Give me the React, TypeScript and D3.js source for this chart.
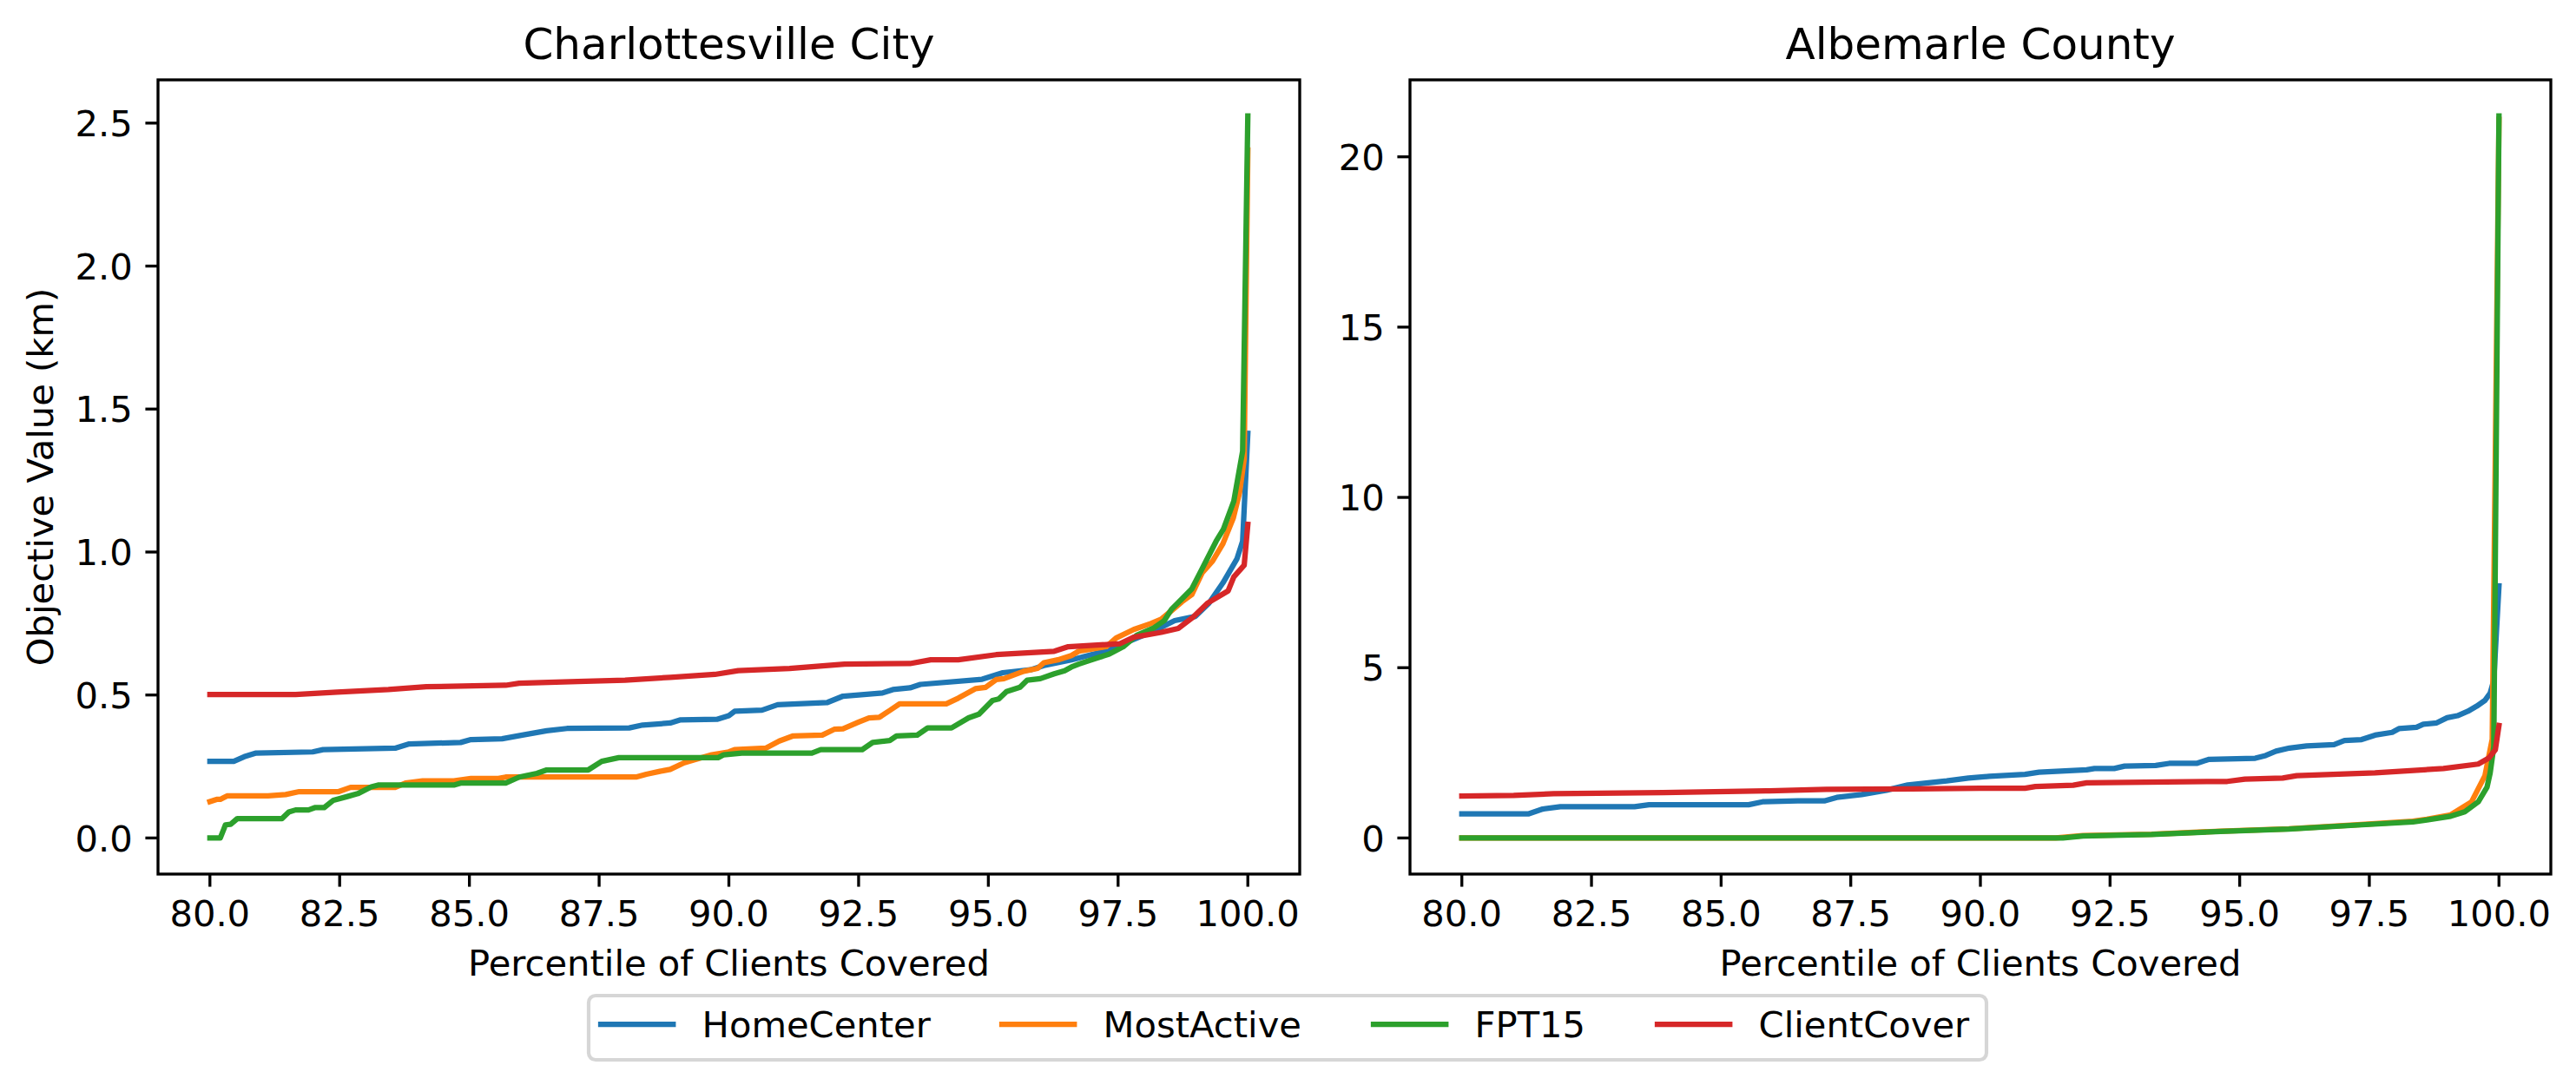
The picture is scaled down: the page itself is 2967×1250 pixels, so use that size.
import React from 'react';
import * as d3 from 'd3';

// ---------- data ----------
const seriesNames = ['HomeCenter', 'MostActive', 'FPT15', 'ClientCover'];
const seriesColors = ['#1f77b4', '#ff7f0e', '#2ca02c', '#d62728'];
const panelTitles = ['Charlottesville City', 'Albemarle County'];
const xLabel = 'Percentile of Clients Covered';
const yLabel = 'Objective Value (km)';
const xTicks = [80, 82.5, 85, 87.5, 90, 92.5, 95, 97.5, 100];
const cityYTicks = [0, 0.5, 1.0, 1.5, 2.0, 2.5];
const countyYTicks = [0, 5, 10, 15, 20];

const cityHomeCenter: [number, number][] = [
  [80.0, 0.268], [80.46, 0.268], [80.66, 0.284], [80.89, 0.297], [81.98, 0.301], [82.18, 0.309],
  [83.57, 0.314], [83.84, 0.329], [84.83, 0.334], [85.03, 0.344], [85.63, 0.347], [86.02, 0.36],
  [86.49, 0.375], [86.88, 0.383], [88.08, 0.385], [88.34, 0.395], [88.87, 0.402], [89.07, 0.413],
  [89.77, 0.415], [90.0, 0.428], [90.11, 0.443], [90.64, 0.447], [90.94, 0.466], [91.9, 0.474],
  [92.2, 0.496], [92.96, 0.507], [93.16, 0.519], [93.49, 0.525], [93.69, 0.537], [94.88, 0.555],
  [95.28, 0.578], [95.81, 0.588], [96.07, 0.603], [96.6, 0.623], [97.13, 0.648], [97.66, 0.684],
  [98.19, 0.724], [98.59, 0.76], [98.99, 0.775], [99.25, 0.821], [99.52, 0.892], [99.79, 0.976],
  [99.9, 1.038], [100.0, 1.415],
];
const cityMostActive: [number, number][] = [
  [80.0, 0.127], [80.13, 0.135], [80.2, 0.135], [80.33, 0.147], [81.12, 0.147], [81.46, 0.152],
  [81.72, 0.162], [82.48, 0.162], [82.71, 0.177], [83.57, 0.177], [83.77, 0.192], [84.1, 0.2],
  [84.7, 0.2], [85.03, 0.208], [85.56, 0.208], [85.7, 0.213], [88.21, 0.213], [88.41, 0.223],
  [88.67, 0.233], [88.87, 0.24], [89.14, 0.263], [89.34, 0.274], [89.67, 0.291], [90.0, 0.301],
  [90.11, 0.309], [90.71, 0.314], [90.97, 0.339], [91.24, 0.357], [91.8, 0.36], [92.03, 0.38],
  [92.2, 0.382], [92.5, 0.405], [92.7, 0.42], [92.9, 0.422], [93.1, 0.446], [93.29, 0.469],
  [94.19, 0.469], [94.42, 0.489], [94.75, 0.522], [94.95, 0.527], [95.15, 0.554], [95.3, 0.557],
  [95.68, 0.583], [95.95, 0.593], [96.07, 0.613], [96.34, 0.623], [96.6, 0.638], [96.74, 0.653],
  [97.27, 0.669], [97.46, 0.699], [97.8, 0.729], [98.13, 0.75], [98.33, 0.765], [98.53, 0.795],
  [98.73, 0.826], [98.92, 0.851], [99.12, 0.927], [99.32, 0.968], [99.52, 1.029], [99.72, 1.119],
  [99.84, 1.207], [99.93, 1.325], [100.0, 2.406],
];
const cityFPT15: [number, number][] = [
  [80.0, 0.0], [80.2, 0.0], [80.3, 0.046], [80.4, 0.048], [80.53, 0.068], [81.39, 0.068],
  [81.52, 0.091], [81.65, 0.098], [81.9, 0.098], [82.02, 0.106], [82.2, 0.106], [82.38, 0.132],
  [82.65, 0.145], [82.85, 0.155], [83.11, 0.179], [83.24, 0.185], [84.7, 0.185], [84.83, 0.192],
  [85.7, 0.192], [85.96, 0.213], [86.3, 0.226], [86.49, 0.238], [87.29, 0.238], [87.55, 0.268],
  [87.88, 0.281], [89.8, 0.281], [89.9, 0.291], [90.25, 0.297], [91.6, 0.297], [91.77, 0.309],
  [92.57, 0.309], [92.77, 0.334], [93.1, 0.341], [93.23, 0.357], [93.63, 0.36], [93.83, 0.385],
  [94.29, 0.385], [94.62, 0.42], [94.82, 0.433], [95.08, 0.481], [95.2, 0.486], [95.35, 0.512],
  [95.61, 0.527], [95.75, 0.552], [96.0, 0.557], [96.27, 0.574], [96.47, 0.585], [96.6, 0.598],
  [96.74, 0.608], [97.07, 0.628], [97.33, 0.643], [97.6, 0.669], [97.86, 0.709], [98.19, 0.735],
  [98.39, 0.76], [98.53, 0.8], [98.73, 0.836], [98.92, 0.871], [99.12, 0.942], [99.39, 1.038],
  [99.53, 1.08], [99.73, 1.178], [99.9, 1.353], [100.0, 2.525],
];
const cityClientCover: [number, number][] = [
  [80.0, 0.502], [81.65, 0.502], [82.45, 0.51], [83.44, 0.519], [84.17, 0.529], [85.7, 0.534],
  [85.96, 0.541], [87.09, 0.547], [88.0, 0.552], [88.87, 0.562], [89.73, 0.572], [90.18, 0.585],
  [91.17, 0.593], [92.23, 0.608], [93.49, 0.61], [93.89, 0.623], [94.42, 0.623], [95.15, 0.641],
  [96.27, 0.653], [96.54, 0.669], [97.53, 0.679], [97.8, 0.702], [98.33, 0.719], [98.66, 0.733],
  [98.95, 0.773], [99.23, 0.822], [99.62, 0.864], [99.73, 0.913], [99.93, 0.954], [100.0, 1.097],
];

const countyHomeCenter: [number, number][] = [
  [80.0, 0.706], [81.28, 0.706], [81.56, 0.85], [81.9, 0.918], [83.33, 0.918], [83.61, 0.977],
  [85.53, 0.977], [85.8, 1.063], [86.48, 1.089], [86.99, 1.089], [87.23, 1.19], [87.71, 1.275],
  [88.19, 1.403], [88.6, 1.556], [89.35, 1.675], [89.77, 1.76], [90.17, 1.81], [90.86, 1.87],
  [91.13, 1.93], [92.05, 2.0], [92.2, 2.04], [92.58, 2.04], [92.78, 2.11], [93.38, 2.13],
  [93.64, 2.19], [94.17, 2.19], [94.41, 2.31], [95.3, 2.34], [95.5, 2.42], [95.7, 2.55],
  [95.96, 2.64], [96.29, 2.7], [96.82, 2.74], [97.02, 2.86], [97.35, 2.89], [97.61, 3.02],
  [97.94, 3.1], [98.07, 3.21], [98.41, 3.25], [98.54, 3.34], [98.8, 3.38], [99.0, 3.53],
  [99.2, 3.59], [99.4, 3.72], [99.57, 3.87], [99.73, 4.04], [99.83, 4.25], [99.9, 4.63],
  [100.0, 7.4],
];
const countyMostActive: [number, number][] = [
  [80.0, 0.0], [91.45, 0.0], [91.98, 0.07], [93.3, 0.11], [94.63, 0.2], [95.95, 0.27],
  [97.28, 0.39], [98.34, 0.49], [98.61, 0.55], [99.07, 0.68], [99.47, 1.06], [99.73, 1.83],
  [99.87, 2.9], [100.0, 21.1],
];
const countyFPT15: [number, number][] = [
  [80.0, 0.0], [91.59, 0.0], [91.98, 0.06], [93.3, 0.1], [94.63, 0.19], [95.95, 0.26],
  [97.28, 0.38], [98.34, 0.47], [98.61, 0.53], [99.07, 0.64], [99.34, 0.77], [99.6, 1.06],
  [99.77, 1.49], [99.83, 1.91], [99.9, 2.68], [100.0, 21.2],
];
const countyClientCover: [number, number][] = [
  [80.0, 1.232], [81.0, 1.25], [81.77, 1.3], [83.88, 1.334], [85.93, 1.386], [87.03, 1.43],
  [88.67, 1.44], [90.0, 1.46], [90.86, 1.46], [91.06, 1.51], [91.79, 1.55], [92.05, 1.62],
  [93.18, 1.64], [94.76, 1.66], [95.1, 1.73], [95.83, 1.76], [96.1, 1.83], [97.61, 1.91],
  [98.93, 2.04], [99.6, 2.17], [99.8, 2.34], [99.93, 2.59], [100.0, 3.3],
];

const citySeries = [cityHomeCenter, cityMostActive, cityFPT15, cityClientCover];
const countySeries = [countyHomeCenter, countyMostActive, countyFPT15, countyClientCover];

// ---------- layout ----------
const W = 2967;
const H = 1250;
const FONT = 'DejaVu Sans, Liberation Sans, sans-serif';
const FS = 41.67;
const TITLE_FS = 50;
const LW = 6.25;
const SPINE = 3.33;
const TICK = 14.58;
const PAD = 14.58;

type PanelProps = {
  left: number; right: number; top: number; bottom: number;
  series: [number, number][][];
  yTicks: number[];
  yFmt: (v: number) => string;
  title: string;
  showYLabel: boolean;
};

function padDomain(ext: [number, number]): [number, number] {
  const span = ext[1] - ext[0];
  return [ext[0] - 0.05 * span, ext[1] + 0.05 * span];
}

function Panel(p: PanelProps) {
  const allX = p.series.flat().map((d) => d[0]);
  const allY = p.series.flat().map((d) => d[1]);
  const x = d3.scaleLinear().domain(padDomain(d3.extent(allX) as [number, number])).range([p.left, p.right]);
  const y = d3.scaleLinear().domain(padDomain(d3.extent(allY) as [number, number])).range([p.bottom, p.top]);
  const line = d3.line<[number, number]>().x((d) => x(d[0])).y((d) => y(d[1]));
  const xf = d3.format('.1f');
  const cx = (p.left + p.right) / 2;
  const cy = (p.top + p.bottom) / 2;
  const clipId = `clip-${Math.round(p.left)}`;
  return (
    <g>
      <defs>
        <clipPath id={clipId}>
          <rect x={p.left} y={p.top} width={p.right - p.left} height={p.bottom - p.top} />
        </clipPath>
      </defs>
      <g clipPath={`url(#${clipId})`}>
        {p.series.map((s, i) => (
          <path key={i} d={line(s) || ''} fill="none" stroke={seriesColors[i]} strokeWidth={LW}
            strokeLinejoin="round" strokeLinecap="square" />
        ))}
      </g>
      <rect x={p.left} y={p.top} width={p.right - p.left} height={p.bottom - p.top}
        fill="none" stroke="#000" strokeWidth={SPINE} />
      {xTicks.map((t) => (
        <g key={`x${t}`}>
          <line x1={x(t)} x2={x(t)} y1={p.bottom} y2={p.bottom + TICK} stroke="#000" strokeWidth={SPINE} />
          <text x={x(t)} y={p.bottom + TICK + PAD + 30.5} textAnchor="middle" fontSize={FS} fontFamily={FONT}>{xf(t)}</text>
        </g>
      ))}
      {p.yTicks.map((t) => (
        <g key={`y${t}`}>
          <line x1={p.left - TICK} x2={p.left} y1={y(t)} y2={y(t)} stroke="#000" strokeWidth={SPINE} />
          <text x={p.left - TICK - PAD} y={y(t) + 15.2} textAnchor="end" fontSize={FS} fontFamily={FONT}>{p.yFmt(t)}</text>
        </g>
      ))}
      <text x={cx} y={p.top - 24.5} textAnchor="middle" fontSize={TITLE_FS} fontFamily={FONT}>{p.title}</text>
      <text x={cx} y={1124} textAnchor="middle" fontSize={FS} fontFamily={FONT}>{xLabel}</text>
      {p.showYLabel && (
        <text transform={`translate(61,${cy}) rotate(-90)`} textAnchor="middle" fontSize={FS} fontFamily={FONT}>{yLabel}</text>
      )}
    </g>
  );
}

const legendX = [692, 1154, 1582, 1909];

function Legend() {
  const top = 1147;
  const bottom = 1221;
  const left = 678;
  const right = 2288;
  const cy = 1180;
  return (
    <g>
      <rect x={left} y={top} width={right - left} height={bottom - top} rx={8} ry={8}
        fill="#fff" fillOpacity={0.8} stroke="#cccccc" strokeOpacity={0.8} strokeWidth={4.17} />
      {seriesNames.map((n, i) => (
        <g key={n}>
          <line x1={legendX[i]} x2={legendX[i] + 83.3} y1={cy} y2={cy} stroke={seriesColors[i]} strokeWidth={LW} strokeLinecap="square" />
          <text x={legendX[i] + 83.3 + 33.3} y={cy + 15.2} fontSize={FS} fontFamily={FONT}>{n}</text>
        </g>
      ))}
    </g>
  );
}

export default function App() {
  return (
    <svg width={W} height={H} viewBox={`0 0 ${W} ${H}`} style={{ position: 'absolute', left: 0, top: 0, display: 'block', background: '#fff' }}>
      <rect x={0} y={0} width={W} height={H} fill="#fff" />
      <Panel left={182} right={1497} top={92} bottom={1007} series={citySeries}
        yTicks={cityYTicks} yFmt={d3.format('.1f')} title={panelTitles[0]} showYLabel={true} />
      <Panel left={1624} right={2938} top={92} bottom={1007} series={countySeries}
        yTicks={countyYTicks} yFmt={d3.format('d')} title={panelTitles[1]} showYLabel={false} />
      <Legend />
    </svg>
  );
}
